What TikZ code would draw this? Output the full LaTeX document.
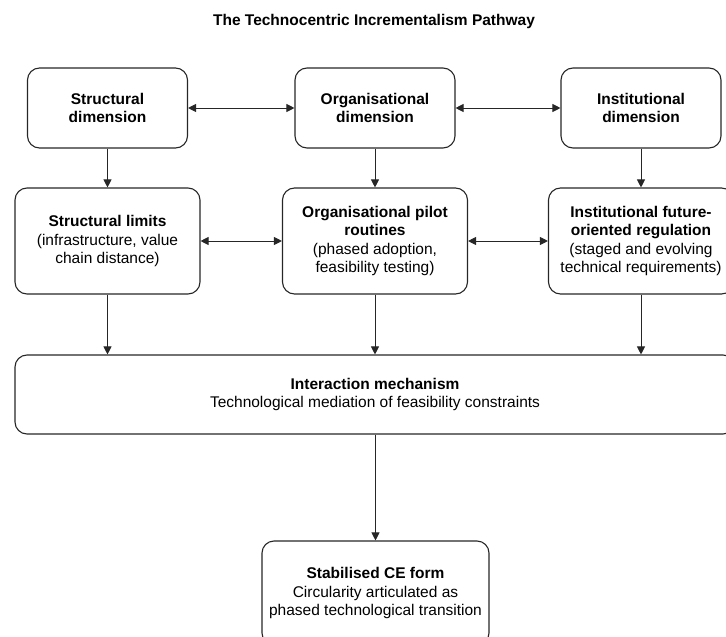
\documentclass[tikz,border=0pt]{standalone}
\usepackage{fontspec}
\setmainfont{Liberation Sans}
\usetikzlibrary{arrows.meta}
\begin{document}
\begin{tikzpicture}[x=1pt,y=-1pt,
  box/.style={draw=black!85, line width=1.1pt, rounded corners=12pt,
    align=center, inner sep=0pt, font=\fontsize{15.5}{18.5}\selectfont},
  dimbox/.style={box, minimum width=160pt, minimum height=80pt},
  mechbox/.style={box, minimum width=185pt, minimum height=106pt},
  link/.style={line width=0.9pt, draw=black!85, -{Triangle[length=8pt,width=8pt]}},
  twoway/.style={line width=0.9pt, draw=black!85,
    {Triangle[length=8pt,width=8pt]}-{Triangle[length=8pt,width=8pt]}}]
\useasboundingbox (0,0) rectangle (726,637);

% heading
\node[font={\fontsize{15.5}{18}\selectfont\bfseries}] (title) at (374,21)
  {The Technocentric Incrementalism Pathway};

% dimensions
\node[dimbox] (sdim) at (107.5,108) {\textbf{Structural}\\\textbf{dimension}};
\node[dimbox] (odim) at (375,108) {\textbf{Organisational}\\\textbf{dimension}};
\node[dimbox] (idim) at (641,108) {\textbf{Institutional}\\\textbf{dimension}};

% mechanisms per dimension
\node[mechbox] (slim) at (107.5,241)
  {\textbf{Structural limits}\\(infrastructure, value\\chain distance)};
\node[mechbox] (opil) at (375,241)
  {\textbf{Organisational pilot}\\\textbf{routines}\\(phased adoption,\\feasibility testing)};
\node[mechbox] (ireg) at (641,241)
  {\textbf{Institutional future-}\\\textbf{oriented regulation}\\(staged and evolving\\technical requirements)};

% interaction mechanism
\node[box, minimum width=720pt, minimum height=79pt] (inter) at (375,394.5)
  {\textbf{Interaction mechanism}\\Technological mediation of feasibility constraints};

% outcome
\node[box, minimum width=227pt, minimum height=104pt] (stab) at (375.5,593)
  {\textbf{Stabilised CE form}\\Circularity articulated as\\phased technological transition};

% connectors
\draw[twoway] (sdim) -- (odim);
\draw[twoway] (odim) -- (idim);
\draw[twoway] (slim) -- (opil);
\draw[twoway] (opil) -- (ireg);

\draw[link] (sdim) -- (slim);
\draw[link] (odim) -- (opil);
\draw[link] (idim) -- (ireg);

\draw[link] (slim.south) -- (slim.south |- inter.north);
\draw[link] (opil.south) -- (opil.south |- inter.north);
\draw[link] (ireg.south) -- (ireg.south |- inter.north);

\draw[link] (inter.south -| stab.north) -- (stab.north);
\end{tikzpicture}
\end{document}
